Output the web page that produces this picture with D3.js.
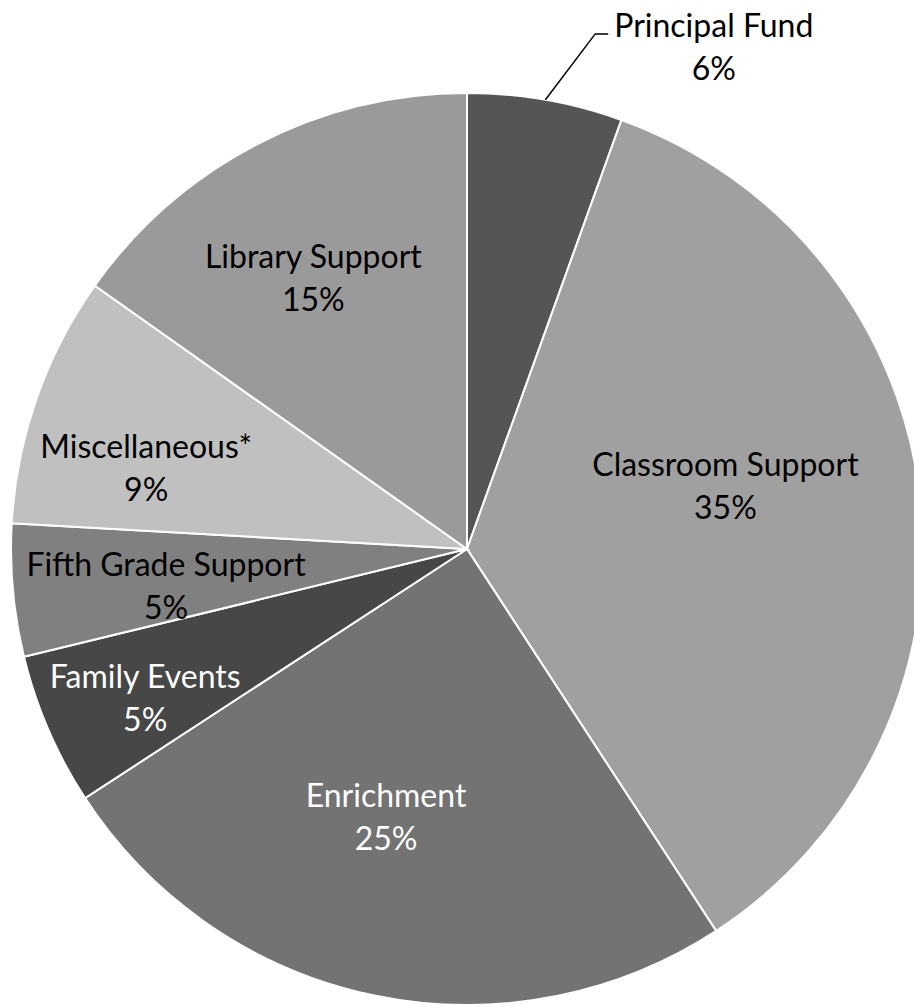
<!DOCTYPE html>
<html>
<head>
<meta charset="utf-8">
<script src="https://cdn.jsdelivr.net/npm/d3@7"></script>
<style>
  body { margin: 0; background: #fff; }
  text { font-family: Lato, "Open Sans", sans-serif; font-size: 32px; }
</style>
</head>
<body>
<svg width="914" height="1006"></svg>
<script>
// data, clockwise from 12 o'clock (percent of total)
const categories = ["Principal Fund", "Classroom Support", "Enrichment", "Family Events",
  "Fifth Grade Support", "Miscellaneous*", "Library Support"]
const values = [5.5, 35.3, 25.0, 5.4, 4.7, 8.9, 15.2]

// look
const fills = ["#555555", "#a0a0a0", "#737373", "#474747", "#808080", "#c0c0c0", "#9a9a9a"]
const labelColors = ["#000", "#000", "#fff", "#fff", "#000", "#000", "#000"]
// label placement: [radius as fraction of r, angle nudge in degrees]
const labelPlace = [[1.226, 16.3], [0.583, -6.9], [0.615, 4.9], [0.778, -1.5],
  [0.665, -1.85], [0.725, -5.25], [0.683, -2.2]]

const svg = d3.select("svg")
const cx = 467, cy = 549, r = 456

const g = svg.append("g")
  .attr("transform", "translate(" + cx + "," + cy + ")")

const rows = categories.map((c, i) => ({ name: c, value: values[i], i: i }))

const pie = d3.pie().sort(null).value(d => d.value)
const arcs = pie(rows)

const arc = d3.arc().innerRadius(0).outerRadius(r)

g.selectAll("path")
  .data(arcs)
  .join("path")
  .attr("d", arc)
  .attr("fill", d => fills[d.data.i])
  .attr("stroke", "#fff")
  .attr("stroke-width", 2)

function labelPos(d) {
  const p = labelPlace[d.data.i]
  const a = (d.startAngle + d.endAngle) / 2 + p[1] * Math.PI / 180
  const rr = p[0] * r
  return [rr * Math.sin(a), -rr * Math.cos(a)]
}

const lineGap = 43

const labels = g.selectAll("text.lbl")
  .data(arcs)
  .join("text")
  .attr("class", "lbl")
  .attr("text-anchor", "middle")
  .attr("fill", d => labelColors[d.data.i])
  .attr("transform", d => "translate(" + labelPos(d) + ")")

labels.append("tspan")
  .attr("x", 0)
  .attr("y", -lineGap / 2 + 11)
  .text(d => d.data.name)

labels.append("tspan")
  .attr("x", 0)
  .attr("y", lineGap / 2 + 11)
  .text(d => Math.round(d.data.value) + "%")

// leader line for the label that sits outside the pie
const edgeArc = d3.arc().innerRadius(r).outerRadius(r)
arcs.filter(d => labelPlace[d.data.i][0] > 1).forEach(d => {
  const start = edgeArc.centroid(d)
  const lp = labelPos(d)
  const textW = labels.filter(e => e === d).select("tspan").node().getComputedTextLength()
  const endX = lp[0] - textW / 2 - 6
  const endY = lp[1] - lineGap / 2 + 8
  g.append("path")
    .attr("d", d3.line()([start, [endX - 13, endY], [endX, endY]]))
    .attr("fill", "none")
    .attr("stroke", "#000")
    .attr("stroke-width", 1.5)
})
</script>
</body>
</html>
